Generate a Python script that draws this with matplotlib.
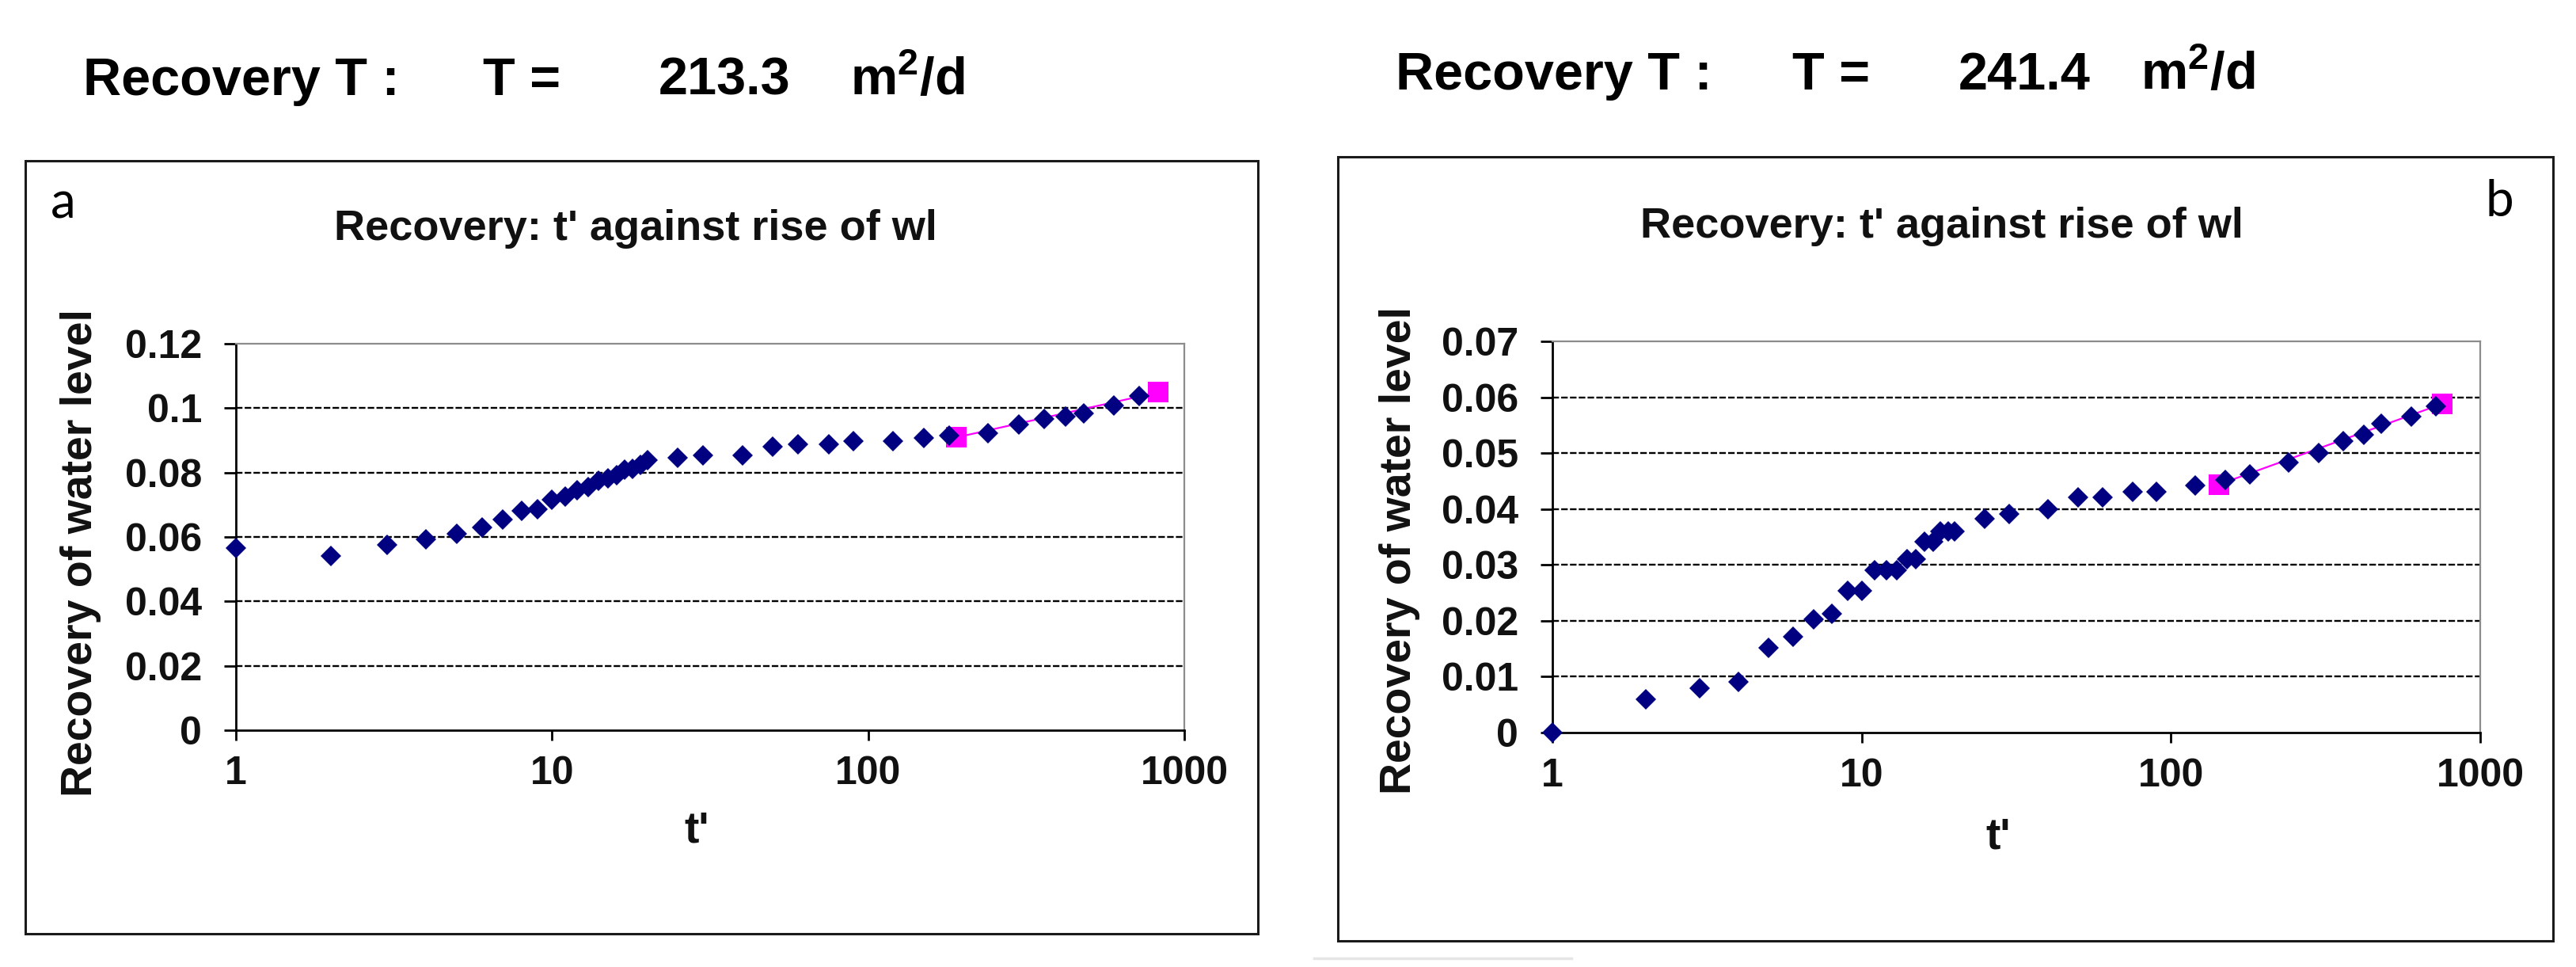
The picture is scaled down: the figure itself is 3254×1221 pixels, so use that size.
import matplotlib
matplotlib.use("Agg")
import matplotlib.pyplot as plt
from matplotlib import font_manager
from matplotlib.patches import Rectangle
from matplotlib.lines import Line2D

# 数据
t_a = [1, 2, 3, 4, 5, 6, 7, 8, 9, 10, 11, 12, 13, 14, 15, 16, 17, 18, 19, 20,
       25, 30, 40, 50, 60, 75, 90, 120, 150, 180, 240, 300, 360, 420, 480, 600, 720]
rise_a = [0.0566, 0.0540, 0.0575, 0.0593, 0.0610, 0.0630, 0.0654, 0.0680, 0.0687, 0.0716,
          0.0726, 0.0744, 0.0755, 0.0775, 0.0781, 0.0793, 0.0808, 0.0811, 0.0825, 0.0839,
          0.0846, 0.0853, 0.0853, 0.0880, 0.0888, 0.0888, 0.0897, 0.0897, 0.0907, 0.0915,
          0.0923, 0.0950, 0.0967, 0.0975, 0.0983, 0.1009, 0.1038]
fit_t_a = [190, 825]
fit_rise_a = [0.0909, 0.1049]

t_b = [1, 2, 3, 4, 5, 6, 7, 8, 9, 10, 11, 12, 13, 14, 15, 16, 17, 18, 19, 20,
       25, 30, 40, 50, 60, 75, 90, 120, 150, 180, 240, 300, 360, 420, 480, 600, 720]
rise_b = [0.0, 0.0060, 0.0080, 0.0091, 0.0151, 0.0171, 0.0202, 0.0212, 0.0254, 0.0254,
          0.0291, 0.0291, 0.0291, 0.0310, 0.0310, 0.0341, 0.0341, 0.0360, 0.0360, 0.0360,
          0.0382, 0.0391, 0.0400, 0.0421, 0.0421, 0.0431, 0.0431, 0.0442, 0.0452, 0.0462,
          0.0483, 0.0500, 0.0521, 0.0533, 0.0553, 0.0565, 0.0584]
fit_t_b = [143, 752]
fit_rise_b = [0.0444, 0.0588]

x_ticks = [1, 10, 100, 1000]
x_ticklabels = ["1", "10", "100", "1000"]
y_ticks_a = [0, 0.02, 0.04, 0.06, 0.08, 0.1, 0.12]
y_ticklabels_a = ["0", "0.02", "0.04", "0.06", "0.08", "0.1", "0.12"]
y_ticks_b = [0, 0.01, 0.02, 0.03, 0.04, 0.05, 0.06, 0.07]
y_ticklabels_b = ["0", "0.01", "0.02", "0.03", "0.04", "0.05", "0.06", "0.07"]

T_a = "213.3"
T_b = "241.4"

W, H = 3255, 1221
fig = plt.figure(figsize=(W / 100, H / 100), dpi=100)

def has_font(name):
    try:
        font_manager.findfont(name, fallback_to_default=False)
        return True
    except Exception:
        return False

narrow = "Liberation Sans Narrow" if has_font("Liberation Sans Narrow") else "Liberation Sans"
head_size = 53 if narrow == "Liberation Sans Narrow" else 48
plt.rcParams["mathtext.fontset"] = "custom"
plt.rcParams["mathtext.rm"] = narrow + ":bold"
plt.rcParams["mathtext.it"] = narrow + ":bold"
plt.rcParams["mathtext.bf"] = narrow + ":bold"

def fx(px):
    return px / W

def fy(py):
    return 1 - py / H

def panel(rect, box, t, rise, fit_t, fit_rise, yticks, ylabels, head_x, head_y, T,
          title_x, title_y, ylab_xy, xlab_xy, letter, letter_xy):
    # 外框
    fig.patches.append(Rectangle((fx(box[0]), fy(box[3])), fx(box[2] - box[0]),
                                 (box[3] - box[1]) / H, transform=fig.transFigure,
                                 fill=False, edgecolor="#1a1a1a", linewidth=2.2))
    ax = fig.add_axes(rect)
    ax.plot(fit_t, fit_rise, color="#ff00ff", linewidth=1.6, marker="s",
            markersize=19, markeredgewidth=0, clip_on=False, zorder=3)
    ax.plot(t, rise, linestyle="none", marker="D", markersize=13, color="#000080",
            markeredgewidth=0, clip_on=False, zorder=4)
    ax.set_xscale("log")
    ax.set_xlim(1, 1000)
    ax.set_ylim(yticks[0], yticks[-1])
    ax.set_xticks(x_ticks)
    ax.set_xticklabels(x_ticklabels)
    ax.minorticks_off()
    ax.set_yticks(yticks)
    ax.set_yticklabels(ylabels)
    for y in yticks[1:-1]:
        ax.axhline(y, color="black", linewidth=1.7, linestyle=(0, (3.5, 1.2)), zorder=1)
    for s in ["top", "right"]:
        ax.spines[s].set_color("#8c8c8c")
        ax.spines[s].set_linewidth(1.6)
    for s in ["left", "bottom"]:
        ax.spines[s].set_color("black")
        ax.spines[s].set_linewidth(2.0)
    ax.tick_params(axis="y", direction="out", length=11, width=2, pad=20)
    ax.tick_params(axis="x", direction="out", length=9, width=2, pad=14)
    for lab in ax.get_xticklabels() + ax.get_yticklabels():
        lab.set_fontfamily("Liberation Sans")
        lab.set_fontweight("bold")
        lab.set_fontsize(36)
        lab.set_color("#111111")

    # 标题与标签
    pieces = ["Recovery T :", "T =", T, "m$^{2}$/d"]
    for p, x in zip(pieces, head_x):
        fig.text(fx(x), fy(head_y), p, fontsize=head_size, fontweight="bold",
                 family=narrow, va="baseline", ha="left")
    fig.text(fx(title_x), fy(title_y), "Recovery: t' against rise of wl", fontsize=39,
             fontweight="bold", family="Liberation Sans", ha="center", va="baseline",
             color="#111111")
    fig.text(fx(ylab_xy[0]), fy(ylab_xy[1]), "Recovery of water level", rotation=90,
             fontsize=40, fontweight="bold", family="Liberation Sans",
             ha="center", va="center", color="#111111")
    fig.text(fx(xlab_xy[0]), fy(xlab_xy[1]), "t'", fontsize=40, fontweight="bold",
             family="Liberation Sans", ha="center", va="center", color="#111111")
    fig.text(fx(letter_xy[0]), fy(letter_xy[1]), letter, fontsize=46, family="Lato",
             ha="left", va="baseline")
    return ax

panel([fx(298), fy(922), fx(1496 - 298), (922 - 434) / H], (32, 203, 1589, 1179),
      t_a, rise_a, fit_t_a, fit_rise_a, y_ticks_a, y_ticklabels_a,
      [105, 610, 832, 1074], 120, T_a, 803, 303, (102, 698), (880, 1050), "a", (64, 276))
panel([fx(1961), fy(925), fx(3133 - 1961), (925 - 431) / H], (1690, 198, 3225, 1188),
      t_b, rise_b, fit_t_b, fit_rise_b, y_ticks_b, y_ticklabels_b,
      [1763, 2264, 2474, 2704], 113, T_b, 2453, 300, (1768, 695), (2524, 1058), "b", (3140, 273))

# 底部浅灰色细线
fig.add_artist(Line2D([fx(1660), fx(1985)], [fy(1210), fy(1210)], transform=fig.transFigure,
                      color="#e6e6e6", linewidth=2.5))

fig.savefig("out.png", dpi=100)
